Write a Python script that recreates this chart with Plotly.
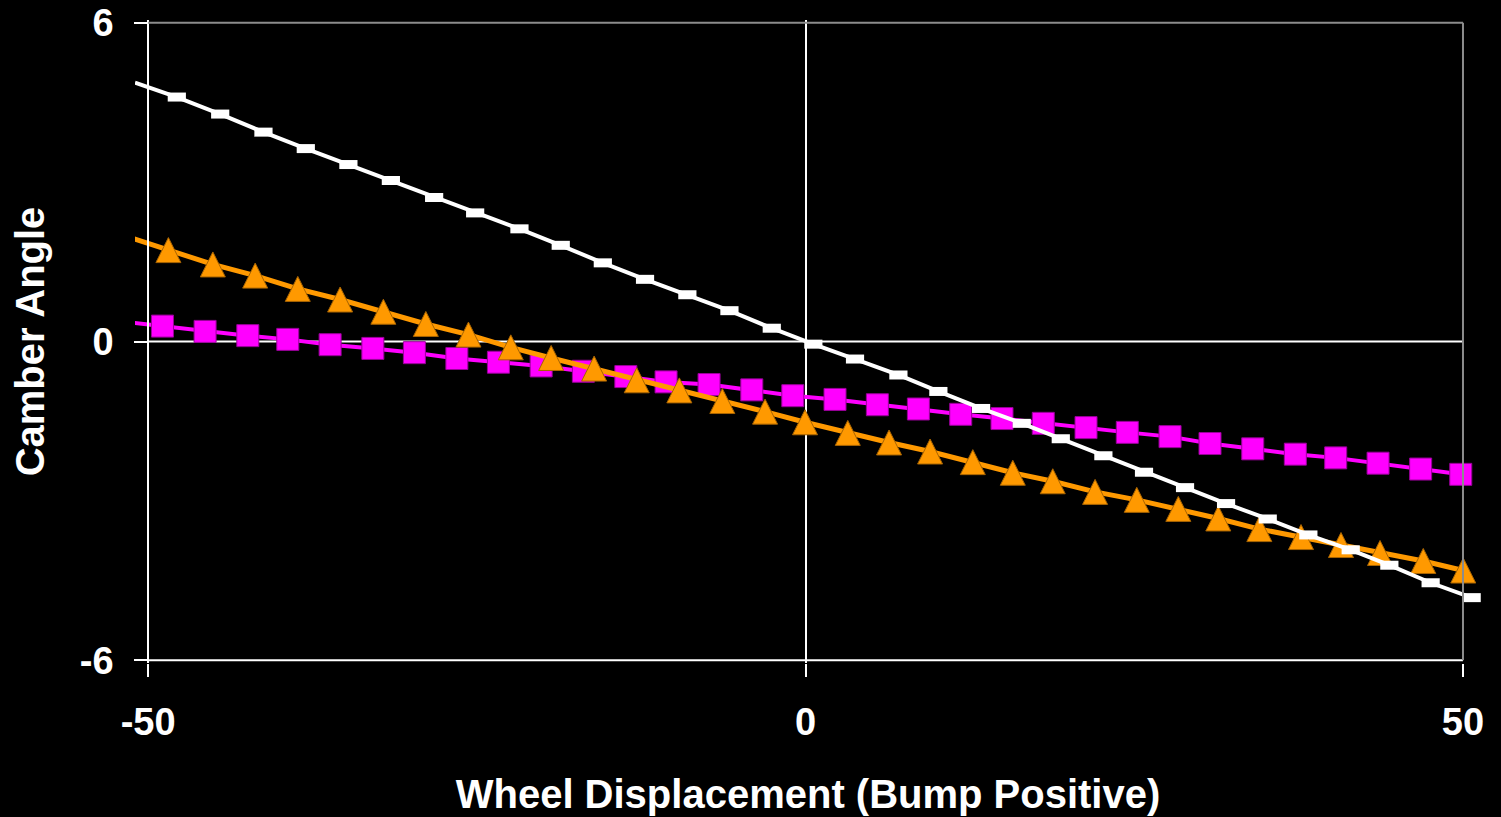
import plotly.graph_objects as go

# ---------------- data ----------------
# White series (small dash markers)
disp_white = [-51.00, -47.82, -44.52, -41.23, -38.01, -34.77, -31.54, -28.25, -25.13,
              -21.76, -18.62, -15.42, -12.21, -8.99, -5.79, -2.57, 0.59, 3.76, 7.06,
              10.10, 13.35, 16.44, 19.41, 22.65, 25.74, 28.86, 31.98, 35.15, 38.24,
              41.46, 44.40, 47.54, 50.66]
camber_white = [4.87, 4.60, 4.28, 3.94, 3.63, 3.33, 3.03, 2.71, 2.42,
                2.12, 1.81, 1.48, 1.17, 0.88, 0.58, 0.25, -0.05, -0.33, -0.63,
                -0.94, -1.26, -1.54, -1.83, -2.15, -2.46, -2.75, -3.05, -3.34, -3.64,
                -3.92, -4.21, -4.54, -4.82]

# Orange series (triangles)
disp_orange = [-51.65, -48.46, -45.08, -41.86, -38.62, -35.40, -32.11, -28.88, -25.64,
               -22.42, -19.35, -16.08, -12.84, -9.60, -6.33, -3.08, -0.04, 3.21, 6.35,
               9.47, 12.72, 15.76, 18.80, 22.02, 25.19, 28.35, 31.39, 34.51, 37.68,
               40.72, 43.69, 46.98, 50.02]
camber_orange = [1.98, 1.72, 1.45, 1.24, 0.99, 0.79, 0.56, 0.33, 0.13,
                 -0.11, -0.31, -0.51, -0.73, -0.92, -1.12, -1.32, -1.52, -1.72, -1.90,
                 -2.07, -2.27, -2.47, -2.63, -2.83, -2.98, -3.15, -3.33, -3.53, -3.68,
                 -3.83, -3.98, -4.13, -4.31]

# Magenta series (squares)
disp_magenta = [-52.10, -48.91, -45.67, -42.42, -39.38, -36.16, -32.91, -29.75, -26.52,
                -23.36, -20.11, -16.90, -13.67, -10.61, -7.34, -4.09, -0.97, 2.24, 5.46,
                8.58, 11.80, 14.94, 18.08, 21.33, 24.47, 27.72, 30.76, 34.01, 37.25,
                40.32, 43.54, 46.78, 49.83]
camber_magenta = [0.38, 0.29, 0.19, 0.11, 0.04, -0.06, -0.13, -0.21, -0.32,
                  -0.39, -0.46, -0.56, -0.66, -0.76, -0.81, -0.91, -1.02, -1.09, -1.19,
                  -1.27, -1.37, -1.45, -1.54, -1.62, -1.71, -1.79, -1.92, -2.02, -2.12,
                  -2.19, -2.29, -2.40, -2.50]

x_ticks = [-50, 0, 50]
y_ticks = [-6, 0, 6]
X_MIN, X_MAX = -50, 50
Y_MIN, Y_MAX = -6, 6

FONT = "Liberation Sans, Arial, Helvetica, sans-serif"


def in_axis(xs, ys):
    """Markers are only drawn for points inside the axis span (left side)."""
    px, py = [], []
    for x, y in zip(xs, ys):
        if x >= X_MIN:
            px.append(x)
            py.append(y)
    return px, py


fig = go.Figure()

series = [
    (disp_magenta, camber_magenta, "#FF00FF", 4,
     dict(symbol="square", size=22, color="#FF00FF", line=dict(width=1, color="#9a009a"))),
    (disp_orange, camber_orange, "#FF9900", 5,
     dict(symbol="arrow-down", angle=180, standoff=12.5, size=25, color="#FF9900",
          line=dict(width=1, color="#a86400"))),
    (disp_white, camber_white, "#FFFFFF", 4,
     dict(symbol="line-ew", size=13, color="#FFFFFF", line=dict(width=9, color="#FFFFFF"))),
]

for xs, ys, col, lw, mk in series:
    fig.add_trace(go.Scatter(x=xs, y=ys, mode="lines",
                             line=dict(color=col, width=lw),
                             showlegend=False, hoverinfo="skip"))
    mx, my = in_axis(xs, ys)
    fig.add_trace(go.Scatter(x=mx, y=my, mode="markers", marker=mk,
                             showlegend=False, cliponaxis=False))

# frame lines and zero line
fig.add_shape(type="line", x0=X_MIN, x1=X_MAX, y0=0, y1=0,
              line=dict(color="white", width=2), layer="below")
fig.add_shape(type="line", x0=X_MIN, x1=X_MAX, y0=Y_MIN, y1=Y_MIN,
              line=dict(color="white", width=2), layer="above")
fig.add_shape(type="line", x0=X_MIN, x1=X_MAX, y0=Y_MAX, y1=Y_MAX,
              line=dict(color="#8c8c8c", width=2), layer="above")
fig.add_shape(type="line", x0=X_MAX, x1=X_MAX, y0=Y_MIN, y1=Y_MAX,
              line=dict(color="#8c8c8c", width=2), layer="above")

x_range = [-51.0, 51.37]
y_range = [-6.05, 6.05]
y_axis_pos = (X_MIN - x_range[0]) / (x_range[1] - x_range[0])

fig.update_layout(
    template="none",
    width=1501, height=817,
    paper_bgcolor="black", plot_bgcolor="black",
    margin=dict(l=135, r=20, t=20, b=154, autoexpand=False),
    font=dict(family=FONT, color="white"),
    xaxis=dict(
        range=x_range, tickvals=x_ticks, ticktext=[str(v) for v in x_ticks],
        automargin=False,
        showgrid=False, showline=False,
        zeroline=True, zerolinecolor="white", zerolinewidth=2,
        ticks="outside", ticklen=13, tickwidth=2, tickcolor="white",
        ticklabelstandoff=12,
        tickfont=dict(family=FONT, size=38, color="white", weight="bold"),
        title=dict(text="Wheel Displacement (Bump Positive)", standoff=38,
                   font=dict(family=FONT, size=40, color="white", weight="bold")),
    ),
    yaxis=dict(
        range=y_range, tickvals=y_ticks, ticktext=[str(v) for v in y_ticks],
        anchor="free", position=y_axis_pos,
        automargin=False,
        showgrid=False, zeroline=False,
        showline=True, linecolor="white", linewidth=2,
        ticks="outside", ticklen=13, tickwidth=2, tickcolor="white",
        ticklabelstandoff=13,
        tickfont=dict(family=FONT, size=38, color="white", weight="bold"),
        title=dict(text="Camber Angle", standoff=22,
                   font=dict(family=FONT, size=40, color="white", weight="bold")),
    ),
)

fig.write_html(
    "out.html",
    config={"displayModeBar": False},
    post_script="document.body.style.margin='0';document.body.style.background='black';",
)
